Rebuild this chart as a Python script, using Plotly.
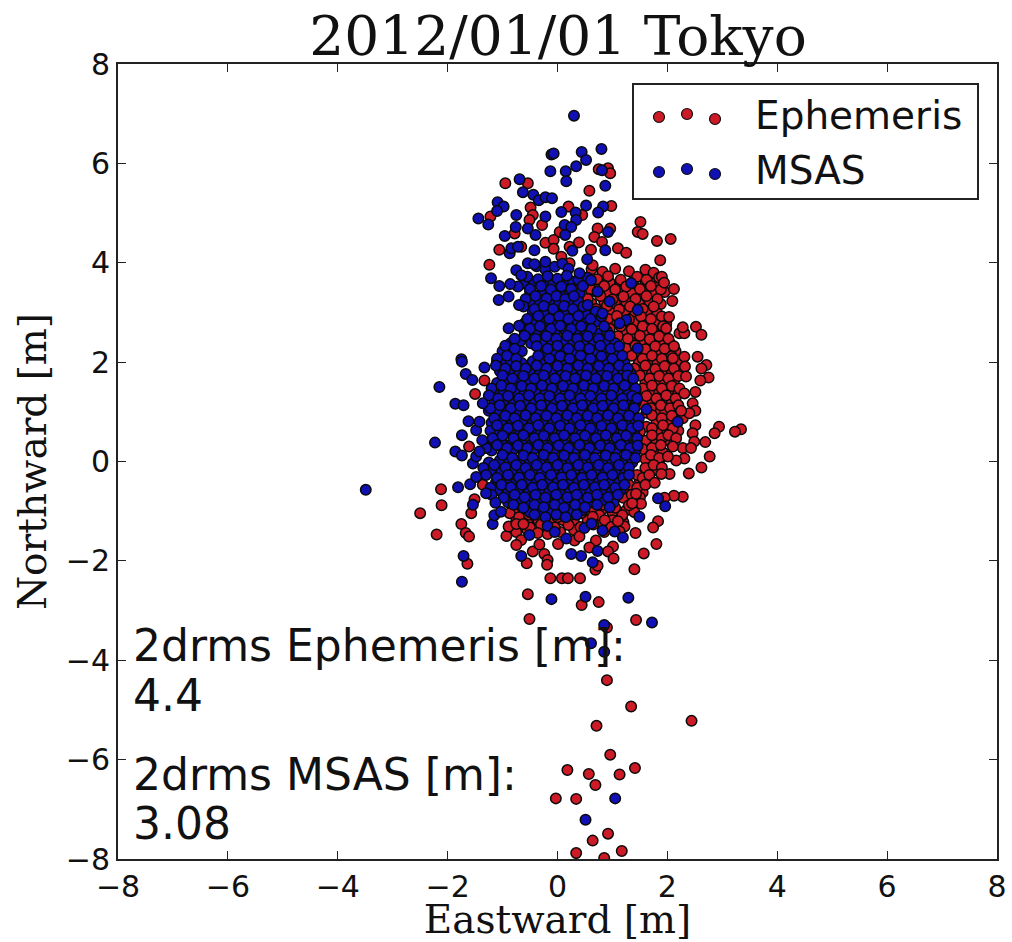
import plotly.graph_objects as go

title_text = "2012/01/01 Tokyo"
x_label = "Eastward [m]"
y_label = "Northward [m]"
tick_values = [-8, -6, -4, -2, 0, 2, 4, 6, 8]
tick_labels = ["−8", "−6", "−4", "−2", "0", "2", "4", "6", "8"]

ephemeris_sparse = [
(-.95,5.6),(-.54,5.6),(.58,5.45),(.75,5.88),(.92,5.9),(.96,5.8),(-.49,5.11),(.2,5.13),(.98,5.14),(-1.22,4.93),
(-.45,4.96),(-.51,4.86),(-.28,4.76),(.45,4.96),(.73,4.69),(.96,4.69),(1.51,4.82),(1.46,4.62),(1.55,4.58),(1.81,4.44),
(2.06,4.48),(-.78,4.59),(.67,4.52),(.81,4.42),(.04,4.62),(-.22,4.40),(-.07,4.46),(-.07,4.28),(.39,4.41),(.61,4.26),
(1.10,4.29),(1.25,4.2),(.22,4.32),(-1.06,4.26),(-.66,4.32),(.07,4.12),(-1.24,3.96),(1.87,4.05),(.22,3.99),(.64,3.95),
(1.90,3.72),(1.94,3.6),(2.12,3.47),(2.09,3.23),(2.03,2.91),(1.98,2.68),(2.22,2.58),(2.31,2.58),(2.28,2.7),(2.52,2.71),
(2.62,2.55),(2.55,2.11),(2.31,2.11),(2.10,2.08),(3.34,.65),(3.23,.60),(2.94,.70),(2.86,.57),(2.77,.10),(2.69,.39),
(2.62,-.12),(2.39,-.24),(2.71,1.94),(2.62,1.87),(2.75,1.69),(2.60,1.63),(2.32,1.91),(2.34,1.71),(2.31,1.37),(2.51,1.40),
(2.46,1.17),(2.51,1.02),(2.40,.97),(2.25,1.02),(2.51,.73),(2.46,.57),(2.49,.40),(2.28,.27),(2.43,.27),(2.16,.47),
(2.10,.30),(2.31,.06),(2.16,.02),(2.01,.10),(2.04,-.25),(1.89,-.25),(1.67,-.27),(1.77,-.43),(2.28,-.71),(2.12,-.69),
(1.95,-.73),(1.83,-1.2),(1.74,-1.33),(1.80,-1.66),(1.57,-1.85),(1.40,-2.17),(1.42,-1.44),(1.52,-.85),(1.36,-.84),(1.43,-.65),
(-2.12,-.56),(-2.11,-.88),(-2.50,-1.04),(-2.20,-1.47),(-1.75,-1.26),(-1.67,-1.44),(-1.61,-1.51),(-1.57,-1.04),(-1.51,-.76),(-1.36,-.47),
(-1.33,1.63),(-1.50,1.36),(-1.61,.30),(-1.10,2.02),(-1.64,-2.06),(-.93,-1.50),(-.89,-1.31),(-.75,-1.26),(-.62,-1.26),(-.66,-1.58),
(-.75,-1.68),(-.45,-1.81),(-.56,-2.05),(-.24,-1.86),(-.18,-1.98),(-.19,-2.08),(-.33,-1.67),(-.36,-1.44),(-.18,-1.46),(.01,-1.66),
(.31,-1.59),(.40,-1.51),(.70,-1.59),(.58,-1.73),(1.01,-1.71),(.92,-1.81),(1.02,-1.95),(.69,-2.18),(.73,-2.10),(-.13,-2.35),
(.08,-2.35),(.19,-2.35),(.41,-2.35),(-.54,-2.67),(.44,-2.89),(.75,-2.83),(-.51,-3.17),(1.43,-3.19),(.90,-3.34),(.90,-4.40),
(1.34,-4.93),(.71,-5.32),(2.44,-5.22),(.96,-5.90),(.18,-6.21),(.57,-6.29),(1.13,-6.30),(1.41,-6.17),(.69,-6.51),(-.03,-6.78),
(.34,-6.79),(.92,-7.49),(.64,-7.63),(1.17,-7.84),(.34,-7.88),(.85,-7.98),
]

ephemeris_dense = [
(.62,3.87),(.82,3.82),(1.05,3.88),(1.3,3.83),(1.6,3.86),(1.75,3.8),(.45,3.72),(.72,3.67),(.92,3.73),(1.15,3.66),
(1.45,3.72),(1.62,3.66),(1.85,3.7),(.4,3.52),(.6,3.47),(.85,3.53),(1.05,3.46),(1.25,3.52),(1.5,3.47),(1.7,3.53),
(1.88,3.46),(.4,3.3),(.55,3.27),(.78,3.33),(1.0,3.26),(1.2,3.32),(1.42,3.27),(1.62,3.33),(1.82,3.27),(.38,3.12),
(.7,3.07),(.9,3.13),(1.12,3.06),(1.32,3.12),(1.55,3.07),(1.75,3.12),(.45,2.92),(.92,2.87),(1.08,2.93),(1.3,2.86),
(1.52,2.92),(1.7,2.87),(1.9,2.92),(.95,2.67),(1.15,2.72),(1.35,2.66),(1.55,2.72),(1.72,2.67),(1.92,2.72),(1.1,2.52),
(1.28,2.47),(1.5,2.53),(1.68,2.46),(1.85,2.52),(2.02,2.47),(1.25,2.27),(1.42,2.33),(1.6,2.26),(1.78,2.32),(1.95,2.27),
(2.12,2.32),(1.35,2.13),(1.55,2.07),(1.72,2.13),(1.9,2.07),(2.08,2.12),(1.4,1.87),(1.6,1.93),(1.78,1.86),(1.95,1.92),
(2.12,1.87),(1.5,1.73),(1.68,1.67),(1.85,1.72),(2.02,1.67),(2.2,1.72),(1.55,1.47),(1.72,1.53),(1.9,1.47),(2.08,1.52),
(2.22,1.47),(1.62,1.32),(1.8,1.27),(1.98,1.33),(2.15,1.27),(1.7,1.07),(1.88,1.13),(2.05,1.07),(2.2,1.13),(1.72,.93),
(1.9,.87),(2.08,.92),(2.28,.87),(1.72,.67),(1.92,.73),(2.1,.67),(1.72,.53),(1.9,.47),(2.02,.53),(1.72,.27),
(1.88,.33),(1.7,.13),(1.85,.07),(1.6,-.13),(1.75,-.07),(1.9,-.12),(1.45,-.27),(1.55,-.33),(1.3,-.47),(1.45,-.53),
(1.6,-.47),(1.2,-.73),(1.35,-.67),(1.5,-.72),(-.55,-.92),(-.35,-.87),(-.1,-.93),(.15,-.88),(.4,-.92),(.85,-.87),
(1.05,-.93),(1.3,-.88),(-.69,-.87),(-.87,-1.04),(-.7,-1.12),(-.52,-1.07),(.0,-1.12),(.25,-1.07),(-.5,-1.33),(-.3,-1.27),
(-.05,-1.33),(.2,-1.28),(.42,-1.32),(.65,-1.27),(.55,-.87),(.67,-.98),(.76,-1.08),(.86,-1.18),(.64,-1.11),(.43,-1.04),
(1.18,-1.08),(1.22,-1.31),(1.13,-1.41),(.98,-1.32),(1.1,-1.2),
]

ephemeris_fill = [
(.5,3.62),(.75,3.58),(.95,3.61),(1.15,3.57),(1.38,3.62),(1.6,3.58),(1.8,3.62),(.5,3.38),(.7,3.42),(.92,3.37),(1.15,3.42),
(1.35,3.38),(1.55,3.42),(1.78,3.37),(1.95,3.41),(.45,3.22),(.62,3.18),(.85,3.22),(1.05,3.17),(1.25,3.22),(1.48,3.18),
(1.68,3.22),(1.88,3.17),(.6,2.98),(.8,3.02),(1.0,2.98),(1.22,3.02),(1.42,2.97),(1.62,3.02),(1.82,2.98),(1.02,2.82),
(1.22,2.78),(1.42,2.82),(1.62,2.78),(1.8,2.82),(1.98,2.78),(1.2,2.62),(1.4,2.58),(1.6,2.62),(1.78,2.58),(1.95,2.62),
(1.35,2.38),(1.52,2.42),(1.7,2.38),(1.88,2.42),(2.05,2.38),(1.45,2.22),(1.62,2.18),(1.8,2.22),(1.98,2.18),(2.15,2.22),
(1.48,1.98),(1.65,2.02),(1.82,1.98),(2.0,2.02),(2.18,1.98),(1.55,1.82),(1.72,1.78),(1.9,1.82),(2.08,1.78),(2.25,1.82),
(1.6,1.58),(1.78,1.62),(1.95,1.58),(2.12,1.62),(1.68,1.42),(1.85,1.38),(2.02,1.42),(2.2,1.38),(1.72,1.18),(1.9,1.22),
(2.08,1.18),(1.78,1.02),(1.95,.98),(2.15,1.02),(1.8,.78),(2.0,.82),(2.18,.78),(1.82,.62),(2.0,.58),(2.2,.62),(1.8,.38),
(1.95,.42),(1.8,.22),(1.92,.18),(1.7,-.02),(1.85,.02),(1.6,-.22),(1.75,-.18),(1.5,-.38),(1.65,-.42),(1.25,-.62),
(1.4,-.58),(1.55,-.62),(-.8,-1.02),(-.6,-.98),(-.4,-1.02),(-.15,-.98),(.1,-1.02),(.35,-.98),(.6,-1.02),(.8,-.98),
(1.0,-1.02),(1.25,-.98),(1.4,-1.02),(-.75,-1.18),(-.55,-1.22),(-.35,-1.18),(-.1,-1.22),(.1,-1.18),(.3,-1.22),(.55,-1.18),
(.75,-1.22),(1.0,-1.18),(1.2,-1.22),(-.75,-1.42),(-.55,-1.38),(.05,-1.42),(.3,-1.38),(.85,-1.42),(1.05,-1.38),
(1.6,.05),(1.6,.42),(1.62,.7),(1.62,.98),(1.55,1.15),(1.5,.6),(1.55,.25),
]

msas_sparse = [
(.30,6.96),(-.11,6.18),(-.07,6.2),(.44,6.23),(.52,6.07),(.80,6.29),(-.13,5.84),(.15,5.84),(.34,5.94),(.16,5.64),
(.87,5.55),(.81,5.86),(-.69,5.68),(-.63,5.42),(-.44,5.37),(-.34,5.26),(-.22,5.32),(-.10,5.30),(-1.09,5.22),(-.98,5.13),
(-1.10,5.04),(-1.44,4.89),(-1.26,4.77),(-.75,4.96),(-.22,4.93),(.07,5.02),(.33,5.01),(.52,5.15),(.83,5.13),(.74,5.01),
(.34,4.86),(.13,4.76),(.25,4.72),(-.76,4.72),(-.54,4.69),(-.40,4.56),(-.96,4.54),(.14,4.56),(.92,4.62),(-.87,4.19),
(-.84,4.29),(-.72,4.32),(-.42,4.25),(.27,4.24),(.87,4.25),(.54,4.07),(-.54,3.99),(-.42,3.97),(-.22,4.02),(-.75,3.85),
(-.66,3.75),(-1.21,3.69),(-1.06,3.53),(-.86,3.57),(-1.07,3.25),(-.89,3.32),(-.70,3.15),(-.89,2.68),(-1.75,2.06),(1.83,-.74),
(1.96,-.90),(2.19,.80),(1.49,-1.11),(-3.49,-.57),(-1.81,-.52),(-1.59,-.46),(-1.54,-.87),(-1.18,-1.26),(-1.15,-1.08),(-1.03,-1.01),
(-1.13,-.83),(-1.71,-1.90),(-1.74,-2.42),(-.66,-1.90),(.25,-1.86),(.43,-1.90),(.64,-2.03),(.73,-1.80),(.82,-1.39),(1.04,-1.41),
(1.19,-1.53),(-.51,-1.48),(.49,-1.34),(.16,-1.55),(-.11,-2.77),(.51,-2.72),(1.29,-2.74),(.85,-3.29),(1.72,-3.24),(-1.74,2.01),
(-1.33,1.89),(-1.67,1.76),(-1.55,1.64),(-2.15,1.50),(-1.86,1.16),(-1.71,1.13),(-1.36,1.17),(-1.62,.81),(-1.74,.53),(-2.23,.38),
(-1.86,.20),(-1.74,.12),(-1.37,.43),(-1.48,.63),(-1.42,.80),(-1.54,-.04),(-1.48,.10),(-1.42,.20),(-1.48,-.31),(-1.30,-.64),
(.61,-3.66),(.85,-3.83),(1.05,-6.78),(.51,-7.21),(.40,3.79),(.61,3.65),(.73,3.42),(.95,3.22),(1.34,3.59),(.55,3.15),
(.82,2.98),(1.25,2.85),(1.13,2.78),(1.46,3.05),(1.46,2.28),(1.62,1.05),(-.18,-1.3),(.62,-1.25),(-.05,-1.42),
]

msas_dense = [
(-.38,3.93),(-.22,3.87),(-.05,3.92),(.09,3.98),(.2,3.88),(-.55,3.72),(-.35,3.67),(-.18,3.73),(.0,3.68),(.17,3.74),
(.38,3.66),(.55,3.7),(-.72,3.52),(-.5,3.47),(-.3,3.53),(-.12,3.46),(.07,3.52),(.25,3.47),(.46,3.53),(-.58,3.27),
(-.4,3.33),(-.2,3.28),(-.02,3.33),(.14,3.27),(.3,3.33),(-.62,3.12),(-.42,3.07),(-.25,3.13),(-.08,3.07),(.12,3.13),
(.28,3.07),(.47,3.12),(-.55,2.87),(-.35,2.93),(-.15,2.87),(.03,2.92),(.2,2.87),(.38,2.93),(.6,2.87),(.8,2.92),
(-.7,2.73),(-.5,2.67),(-.32,2.72),(-.12,2.67),(.05,2.73),(.25,2.67),(.43,2.72),(.62,2.67),(.85,2.72),(-.78,2.47),
(-.6,2.53),(-.4,2.47),(-.2,2.52),(-.02,2.47),(.18,2.53),(.36,2.47),(.55,2.52),(.75,2.47),(.95,2.53),(-.95,2.33),
(-.78,2.27),(-.38,2.32),(-.18,2.27),(.0,2.33),(.2,2.27),(.4,2.32),(.58,2.27),(.78,2.33),(.97,2.27),(1.12,2.32),
(-1.1,2.07),(-.92,2.13),(-.75,2.07),(-.35,2.13),(-.15,2.07),(.05,2.12),(.22,2.07),(.42,2.13),(.6,2.07),(.8,2.12),
(1.0,2.07),(1.18,2.13),(-1.12,1.93),(-.95,1.87),(-.75,1.92),(-.58,1.87),(-.38,1.93),(-.2,1.87),(0,1.92),(.18,1.87),
(.38,1.93),(.55,1.87),(.75,1.92),(.93,1.87),(1.12,1.93),(1.28,1.87),(-1.0,1.73),(-.82,1.67),(-.62,1.72),(-.42,1.67),
(-.25,1.73),(-.05,1.67),(.15,1.72),(.32,1.67),(.52,1.73),(.7,1.67),(.9,1.72),(1.1,1.67),(1.27,1.73),(1.38,1.67),
(-1.2,1.47),(-1.02,1.53),(-.85,1.47),(-.65,1.52),(-.48,1.47),(-.28,1.53),(-.1,1.47),(.1,1.52),(.28,1.47),(.48,1.53),
(.65,1.47),(.85,1.52),(1.02,1.47),(1.22,1.53),(1.42,1.47),(-1.25,1.33),(-1.08,1.27),(-.9,1.32),(-.7,1.27),(-.52,1.33),
(-.32,1.27),(-.15,1.32),(.05,1.27),(.22,1.33),(.42,1.27),(.6,1.32),(.8,1.27),(.98,1.33),(1.18,1.27),(1.36,1.32),
(1.45,1.27),(-1.22,1.07),(-1.05,1.13),(-.85,1.07),(-.68,1.12),(-.48,1.07),(-.3,1.13),(-.1,1.07),(.08,1.12),(.28,1.07),
(.45,1.13),(.65,1.07),(.82,1.12),(1.02,1.07),(1.2,1.13),(1.4,1.07),(-1.15,.87),(-.95,.92),
(-.78,.87),(-.58,.93),(-.4,.87),(-.2,.92),(-.02,.87),(.18,.93),(.35,.87),(.55,.92),(.72,.87),(.92,.93),(1.1,.87),
(1.3,.92),(1.48,.87),(-1.1,.73),(-.9,.67),(-.72,.72),(-.52,.67),(-.35,.73),(-.15,.67),
(.05,.72),(.22,.67),(.42,.73),(.6,.67),(.8,.72),(.98,.67),(1.18,.73),(1.35,.67),(1.47,.72),
(-1.18,.47),(-1.0,.52),(-.8,.47),(-.62,.53),(-.42,.47),(-.25,.52),(-.05,.47),(.12,.53),(.32,.47),(.5,.52),(.7,.47),
(.88,.53),(1.08,.47),(1.25,.52),(1.45,.47),(-1.3,.27),(-1.1,.33),(-.92,.27),(-.72,.32),(-.55,.27),
(-.35,.33),(-.18,.27),(.02,.32),(.2,.27),(.4,.33),(.58,.27),(.78,.32),(.95,.27),(1.15,.33),(1.32,.27),(1.46,.32),
(-1.0,.13),(-.82,.07),(-.62,.12),(-.45,.07),(-.25,.13),(-.08,.07),(.12,.12),(.3,.07),(.5,.13),
(.68,.07),(.88,.12),(1.05,.07),(1.25,.13),(1.42,.07),(-1.35,-.13),(-1.15,-.07),(-.95,-.12),(-.75,-.07),
(-.58,-.13),(-.38,-.07),(-.2,-.12),(0,-.07),(.18,-.13),(.38,-.07),(.55,-.12),(.75,-.07),(.92,-.13),(1.12,-.07),
(1.3,-.12),(-1.3,-.27),(-1.1,-.33),(-.9,-.27),(-.7,-.32),(-.5,-.27),(-.32,-.33),(-.12,-.27),(.08,-.32),
(.25,-.27),(.45,-.33),(.62,-.27),(.82,-.32),(1.0,-.27),(1.2,-.33),(1.3,-.27),(-1.22,-.53),(-1.02,-.47),(-.85,-.52),
(-.65,-.47),(-.45,-.53),(-.28,-.47),(-.08,-.52),(.1,-.47),(.3,-.53),(.48,-.47),(.68,-.52),(.85,-.47),(1.05,-.53),
(1.22,-.47),(-1.2,-.67),(-.98,-.73),(-.78,-.67),(-.6,-.72),(-.4,-.67),(-.22,-.73),(-.02,-.67),(.18,-.72),(.35,-.67),
(.55,-.73),(.72,-.67),(.92,-.72),(1.1,-.67),(-.8,-.87),(-.62,-.93),(-.42,-.87),(-.25,-.92),(-.05,-.87),(.12,-.93),
(.32,-.87),(.5,-.92),(.72,-.87),(.95,-.92),(-.42,-1.07),(-.22,-1.12),(-.02,-1.07),(.15,-1.12),(.35,-1.07),
]

msas_fill = [
(-.62,3.58),(-.42,3.62),(-.25,3.58),(-.08,3.62),(.1,3.58),(.28,3.62),(.48,3.58),(-.5,3.42),(-.3,3.38),(-.12,3.42),(.05,3.38),
(.22,3.42),(.4,3.38),(-.5,3.18),(-.32,3.22),(-.15,3.18),(.03,3.22),(.2,3.18),(.38,3.22),(-.45,3.02),(-.25,2.98),(-.05,3.02),
(.12,2.98),(.3,3.02),(.5,2.98),(.7,3.02),(-.6,2.78),(-.42,2.82),(-.22,2.78),(-.05,2.82),(.15,2.78),(.33,2.82),(.52,2.78),
(.72,2.82),(-.6,2.62),(-.4,2.58),(-.22,2.62),(-.05,2.58),(.15,2.62),(.33,2.58),(.52,2.62),(.72,2.58),(.9,2.62),(-.85,2.38),
(-.68,2.42),(-.48,2.38),(-.28,2.42),(-.1,2.38),(.1,2.42),(.28,2.38),(.47,2.42),(.67,2.38),(.87,2.42),(1.05,2.38),(-1.0,2.22),
(-.85,2.18),(-.65,2.22),(-.28,2.18),(-.08,2.22),(.12,2.18),(.3,2.22),(.5,2.18),(.68,2.22),(.88,2.18),(1.08,2.22),(-1.02,1.98),
(-.85,2.02),(-.65,1.98),(-.45,2.02),(-.28,1.98),(-.08,2.02),(.1,1.98),(.28,2.02),(.47,1.98),(.65,2.02),(.85,1.98),(1.05,2.02),
(1.22,1.98),(-1.05,1.82),(-.88,1.78),(-.7,1.82),(-.5,1.78),(-.32,1.82),(-.12,1.78),(.08,1.82),(.25,1.78),(.45,1.82),(.62,1.78),
(.82,1.82),(1.02,1.78),(1.2,1.82),(1.33,1.78),(-1.1,1.58),(-.92,1.62),(-.75,1.58),(-.55,1.62),(-.35,1.58),(-.18,1.62),(.02,1.58),
(.2,1.62),(.4,1.58),(.58,1.62),(.78,1.58),(.95,1.62),(1.15,1.58),(1.35,1.62),(-1.15,1.42),(-.98,1.38),(-.78,1.42),(-.6,1.38),
(-.4,1.42),(-.22,1.38),(-.02,1.42),(.15,1.38),(.35,1.42),(.52,1.38),(.72,1.42),(.9,1.38),(1.1,1.42),(1.3,1.38),(1.42,1.42),
(-1.15,1.18),(-.98,1.22),(-.8,1.18),(-.6,1.22),(-.42,1.18),(-.22,1.22),(-.05,1.18),(.15,1.22),(.32,1.18),(.52,1.22),(.7,1.18),
(.9,1.22),(1.08,1.18),(1.28,1.22),(1.42,1.18),(-1.25,1.02),(-1.08,.98),(-.9,1.02),(-.72,.98),(-.5,1.02),(-.32,.98),(-.12,1.02),
(.05,.98),(.25,1.02),(.42,.98),(.62,1.02),(.8,.98),(1.0,1.02),(1.18,.98),(1.38,1.02),(-1.2,.78),(-1.02,.82),(-.82,.78),
(-.65,.82),(-.45,.78),(-.28,.82),(-.08,.78),(.12,.82),(.3,.78),(.5,.82),(.68,.78),(.88,.82),(1.05,.78),(1.25,.82),(1.42,.78),
(-1.22,.62),(-1.05,.58),(-.85,.62),(-.68,.58),(-.48,.62),(-.3,.58),(-.1,.62),(.08,.58),(.28,.62),(.45,.58),(.65,.62),
(.82,.58),(1.02,.62),(1.2,.58),(1.4,.62),(-1.22,.38),(-1.02,.42),(-.82,.38),(-.65,.42),(-.45,.38),(-.28,.42),(-.08,.38),
(.1,.42),(.3,.38),(.48,.42),(.68,.38),(.85,.42),(1.05,.38),(1.22,.42),(1.42,.38),(-1.2,.22),(-.98,.18),(-.82,.22),
(-.62,.18),(-.45,.22),(-.25,.18),(-.08,.22),(.12,.18),(.3,.22),(.5,.18),(.68,.22),(.88,.18),(1.05,.22),(1.25,.18),(1.42,.22),
(-1.25,-.02),(-1.05,.02),(-.88,-.02),(-.68,.02),(-.5,-.02),(-.32,.02),(-.12,-.02),(.06,.02),(.25,-.02),(.44,.02),
(.62,-.02),(.82,.02),(1.0,-.02),(1.18,.02),(1.36,-.02),(-1.22,-.18),(-1.02,-.22),(-.82,-.18),(-.65,-.22),(-.45,-.18),
(-.28,-.22),(-.08,-.18),(.12,-.22),(.3,-.18),(.5,-.22),(.68,-.18),(.88,-.22),(1.05,-.18),(1.25,-.22),(-1.12,-.42),
(-.92,-.38),(-.75,-.42),(-.55,-.38),(-.38,-.42),(-.18,-.38),(.0,-.42),(.2,-.38),(.38,-.42),(.58,-.38),(.75,-.42),(.95,-.38),
(1.12,-.42),(-1.1,-.58),(-.9,-.62),(-.72,-.58),(-.52,-.62),(-.33,-.58),(-.15,-.62),(.05,-.58),(.22,-.62),(.42,-.58),
(.6,-.62),(.8,-.58),(.98,-.62),(1.15,-.58),(-.9,-.82),(-.72,-.78),(-.52,-.82),(-.33,-.78),(-.15,-.82),(.05,-.78),(.22,-.82),
(.42,-.78),(.62,-.82),(.85,-.78),(1.02,-.82),(-.5,-1.02),(-.3,-.98),(-.12,-1.02),(.08,-.98),(.25,-1.02),(.45,-.98),
]

ephemeris = ephemeris_fill + ephemeris_dense + ephemeris_sparse
msas = msas_fill + msas_dense + msas_sparse

fig = go.Figure()
for name, pts, col in [("Ephemeris", ephemeris, "#cc1a26"), ("MSAS", msas, "#1010b4")]:
    fig.add_trace(go.Scatter(x=[p[0] for p in pts], y=[p[1] for p in pts], mode="markers", name=name,
                             showlegend=False, cliponaxis=True,
                             marker=dict(size=10.5, color=col, line=dict(color="#0a0a0a", width=1.5))))

axis = dict(range=[-8, 8], tickmode="array", tickvals=tick_values, ticktext=tick_labels, ticks="inside", ticklen=8,
            tickwidth=1, tickcolor="#222222", showgrid=False, zeroline=False, showline=True, linecolor="#222222",
            linewidth=2, mirror="allticks", automargin=False, tickfont=dict(family="DejaVu Sans", size=30, color="#111111"))

sans = dict(family="DejaVu Sans", color="#111111")
notes = [("2drms Ephemeris [m]:", 131, 645), ("4.4", 131, 695), ("2drms MSAS [m]:", 131, 774), ("3.08", 131, 823)]
W, H = 1012, 942
L, R, T, B = 118, 997, 64, 859
def px(v): return (v - L) / (R - L)
def py(v): return (B - v) / (B - T)

annotations = [dict(text=t, x=px(xp), y=py(yp), xref="paper", yref="paper", xanchor="left", yanchor="middle",
                    showarrow=False, font=dict(size=44, **sans)) for t, xp, yp in notes]
annotations += [dict(text=t, x=px(753), y=py(yp), xref="paper", yref="paper", xanchor="left", yanchor="middle",
                     showarrow=False, font=dict(size=39, **sans)) for t, yp in [("Ephemeris", 116), ("MSAS", 171)]]

shapes = [dict(type="rect", xref="paper", yref="paper", x0=px(633), x1=px(978), y0=py(84), y1=py(199),
               fillcolor="white", line=dict(color="#222222", width=2), layer="above")]
for yp, col in [(117, "#cc1a26"), (172, "#1010b4")]:
    for xp, dy in [(659, 0), (687, -3), (715, 2)]:
        shapes.append(dict(type="circle", xref="paper", yref="paper", xsizemode="pixel", ysizemode="pixel",
                           xanchor=px(xp), yanchor=py(yp + dy), x0=-5.5, x1=5.5, y0=-5.5, y1=5.5,
                           fillcolor=col, line=dict(color="#111111", width=1.2), layer="above"))

fig.update_layout(
    width=W, height=H, margin=dict(l=L, r=W - R, t=T, b=H - B, autoexpand=False), plot_bgcolor="white", paper_bgcolor="white",
    title=dict(text=title_text, x=px(558), xanchor="center", xref="paper", y=1 - 36 / H, yanchor="middle",
               font=dict(family="DejaVu Serif", size=55, color="#111111")),
    xaxis=dict(axis, title=dict(text=x_label, standoff=0, font=dict(family="DejaVu Serif", size=39, color="#111111"))),
    yaxis=dict(axis, title=dict(text=y_label, standoff=7, font=dict(family="DejaVu Serif", size=39, color="#111111"))),
    annotations=annotations, shapes=shapes,
)
fig.write_html("out.html", config=dict(displayModeBar=False),
               post_script="document.body.style.margin='0';document.body.style.overflow='hidden';")
